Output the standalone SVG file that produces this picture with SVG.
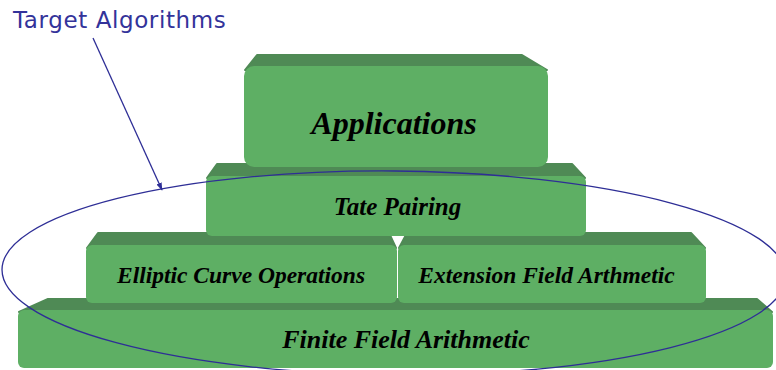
<svg xmlns="http://www.w3.org/2000/svg" width="776" height="370" viewBox="0 0 776 370">
<style>
.band{fill:#4f8a55;stroke:#4f8a55;stroke-width:2;stroke-linejoin:round}
.face{fill:#5eaf64}
.lbl{font-family:"Liberation Serif","Times New Roman",serif;font-weight:bold;font-style:italic;fill:#000;text-anchor:middle}
.conn{fill:none;stroke:#2e2e96;stroke-width:1.3}
</style>
<defs>
<marker id="ah" viewBox="0 0 10 10" refX="9" refY="5" markerWidth="8" markerHeight="8" markerUnits="userSpaceOnUse" orient="auto">
<path d="M0,1.5 L10,5 L0,8.5 Z" fill="#2e2e96"/>
</marker>
</defs>
<rect width="776" height="370" fill="#fff"/>
<g id="finite">
<path class="band" d="M19,312 L48,299 L757,299 L772,312 Z"/>
<rect class="face" x="18" y="310" width="755" height="58" rx="6"/>
<text class="lbl" x="406" y="348" font-size="26">Finite Field Arithmetic</text>
</g>
<g id="elliptic">
<path class="band" d="M87,248 L98,233 L389,233 L396,248 Z"/>
<rect class="face" x="86" y="245" width="311" height="58" rx="6"/>
<text class="lbl" x="241" y="283" font-size="23.5">Elliptic Curve Operations</text>
</g>
<g id="extension">
<path class="band" d="M399,248 L407,233 L691,233 L705,248 Z"/>
<rect class="face" x="398" y="245" width="308" height="58" rx="6"/>
<text class="lbl" x="546.5" y="283" font-size="23.5">Extension Field Arthmetic</text>
</g>
<g id="tate">
<path class="band" d="M207,178 L217,164 L572,164 L585,178 Z"/>
<rect class="face" x="206" y="176" width="380" height="60" rx="6"/>
<text class="lbl" x="397.5" y="215" font-size="25">Tate Pairing</text>
</g>
<g id="applications">
<path class="band" d="M245,70 L257,55 L522,55 L547,70 Z"/>
<rect class="face" x="244" y="66" width="304" height="101" rx="10"/>
<text class="lbl" x="394" y="134" font-size="32">Applications</text>
</g>
<g id="connectors">
<ellipse class="conn" cx="394" cy="273" rx="392" ry="102" transform="rotate(0.5 394 273)"/>
<line class="conn" x1="93" y1="38" x2="162" y2="190" marker-end="url(#ah)"/>
</g>
<g id="label">
<text x="13" y="28" font-family="DejaVu Sans,Verdana,sans-serif" font-size="23" letter-spacing="0.6" fill="#33339a">Target Algorithms</text>
</g>
</svg>
